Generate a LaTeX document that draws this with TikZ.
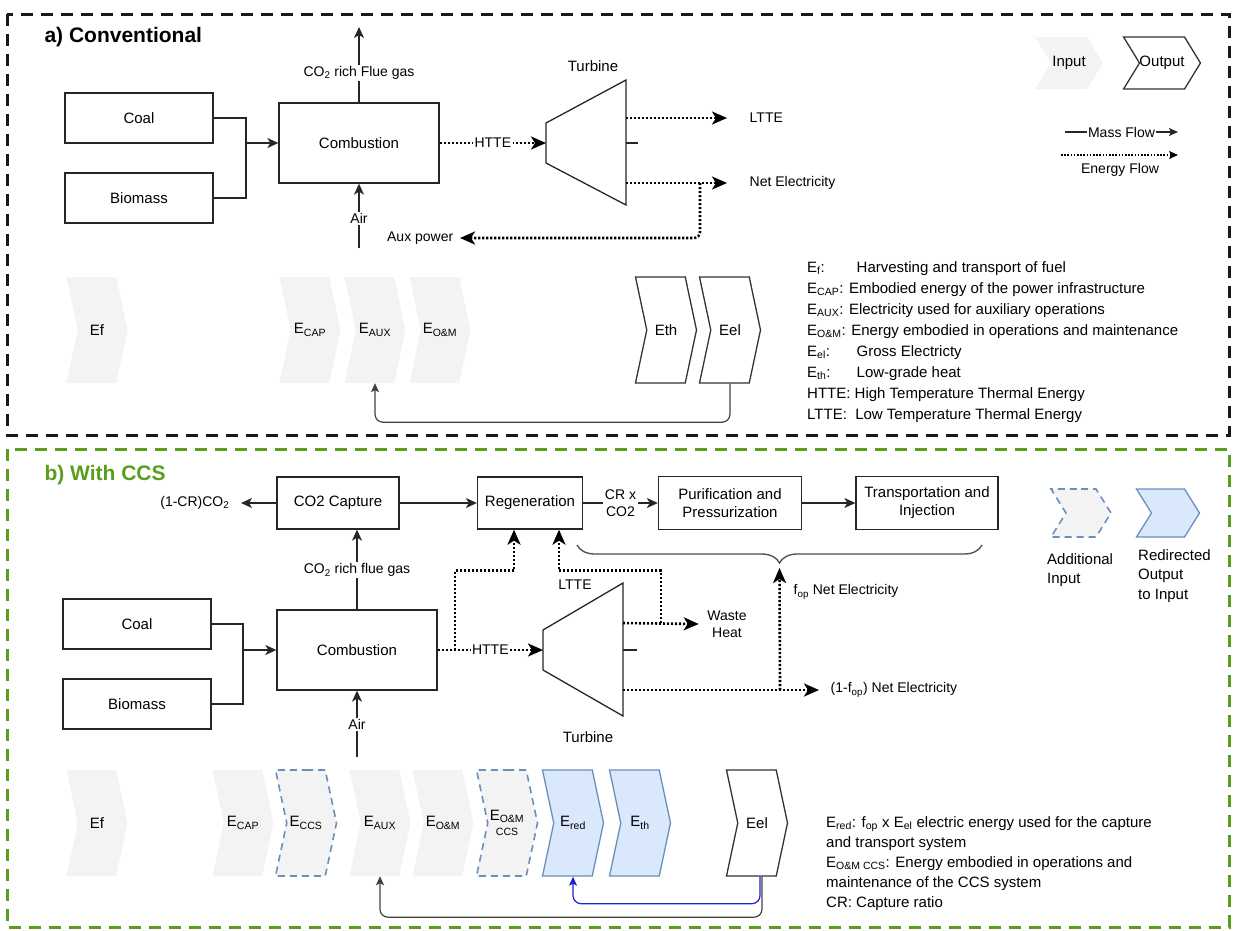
\documentclass[tikz,border=0pt]{standalone}
\usepackage{fontspec}
\setmainfont{Liberation Sans}
\usetikzlibrary{positioning,arrows.meta,calc,shapes.symbols,decorations.pathreplacing}
\definecolor{ccsgreen}{HTML}{5A9E1E}
\definecolor{ioblue}{HTML}{6C8EBF}
\definecolor{iobluefill}{HTML}{DAE8FC}
\definecolor{iogray}{HTML}{F3F3F3}
\definecolor{retblue}{HTML}{2020D0}
\newcommand{\fsBox}{\fontsize{15}{18}\selectfont}
\newcommand{\fsLab}{\fontsize{14}{17}\selectfont}
\tikzset{
  unitbox/.style={draw=black!85, line width=1.3pt, fill=white, font=\fsBox, align=center, inner sep=0pt},
  flowlab/.style={font=\fsLab, inner sep=1.5pt},
  massline/.style={draw=black!85, line width=1.3pt},
  mass/.style={massline, -{Stealth[length=11pt,width=10pt,inset=3pt]}},
  energy/.style={draw=black, line width=2.6pt, dash pattern=on 2.2pt off 1.8pt,
                 -{Stealth[length=15pt,width=13pt,inset=4pt]}},
  ret/.style={draw=black!75, line width=1.2pt, rounded corners=8pt,
              -{Stealth[length=9pt,width=8pt,inset=2pt]}},
  chev/.style={shape=signal, signal from=west, signal to=east, signal pointer angle=156,
               minimum width=61pt, minimum height=106pt, inner sep=0pt, font=\fsBox, align=center},
  chevin/.style={chev, fill=iogray},
  chevout/.style={chev, draw=black!80, line width=1.3pt, fill=white},
  chevadd/.style={chev, fill=iogray, draw=ioblue, line width=1.6pt, dash pattern=on 7pt off 5pt},
  chevred/.style={chev, fill=iobluefill, draw=ioblue, line width=1.3pt},
  seclab/.style={font=\bfseries\fontsize{21}{24}\selectfont, anchor=west},
  keytext/.style={font=\fsBox, align=left, anchor=north west, inner sep=0pt},
}

\begin{document}
\begin{tikzpicture}[x=1pt, y=-1pt]
  \useasboundingbox (0,0) rectangle (1234,930);

  % a) conventional
  \draw[black!90, line width=3pt, dash pattern=on 12pt off 8pt] (7,14) rectangle (1229,435);
  \node[seclab] (titleA) at (41,37) {a) Conventional};

  \node[unitbox, minimum width=148pt, minimum height=50pt] (coalA) at (139,118) {Coal};
  \node[unitbox, minimum width=148pt, minimum height=50pt] (bioA) at (139,198) {Biomass};
  \node[unitbox, minimum width=160pt, minimum height=80pt] (combA) at (359,143) {Combustion};
  \coordinate (mixA) at (246,143);
  \draw[massline] (coalA.east) -| (mixA) |- (bioA.east);
  \draw[mass] (mixA) -- (combA.west);
  \coordinate (flueA) at (359,27);
  \draw[mass] (combA.north) -- node[flowlab, fill=white, pos=0.39]{CO\textsubscript{2} rich Flue gas} (flueA);
  \coordinate (airA) at (359,248);
  \draw[mass] (airA) -- node[flowlab, fill=white, pos=0.46]{Air} (combA.south);

  \draw[massline] (546,123) -- (626,80) -- (626,205) -- (546,163) -- cycle;
  \draw[massline] (626,143) -- (638,143);
  \coordinate (turbAin) at (546,143);
  \coordinate (turbAup) at (626,118);
  \coordinate (turbAlo) at (626,183);
  \node[font=\fsBox] (turbAlab) at (593,66) {Turbine};
  \draw[energy] (combA.east) -- node[flowlab, fill=white]{HTTE} (turbAin);

  \node[flowlab, anchor=west] (ltteA) at (748,118) {LTTE};
  \node[flowlab, anchor=west] (netA) at (748,183) {Net Electricity};
  \node[flowlab, anchor=east] (auxA) at (455,238) {Aux power};
  \draw[energy] (turbAup) -- ([xshift=-21pt]ltteA.west);
  \draw[energy] (turbAlo) -- ([xshift=-21pt]netA.west);
  \coordinate (netjA) at (700,183);
  \draw[energy, rounded corners=6pt] (netjA) |- ([xshift=5pt]auxA.east);

  \node[chevin, minimum width=68pt, minimum height=52pt, signal pointer angle=117] (keyIn) at (1069,63) {Input};
  \node[chevout, minimum width=76pt, minimum height=52pt, signal pointer angle=117] (keyOut) at (1162,63) {Output};
  \coordinate (keyMa) at (1065,132);
  \coordinate (keyMb) at (1178,132);
  \draw[mass, -{Stealth[length=9pt,width=8pt,inset=2pt]}] (keyMa) -- node[flowlab, fill=white]{Mass Flow} (keyMb);
  \coordinate (keyEa) at (1061,155);
  \coordinate (keyEb) at (1178,155);
  \draw[energy, line width=1.6pt, dash pattern=on 1.6pt off 1.6pt, -{Stealth[length=9pt,width=8pt,inset=2pt]}] (keyEa) -- (keyEb);
  \node[flowlab] (keyElab) at (1120,170) {Energy Flow};

  \node[chevin] (efA) at (97,330) {Ef};
  \node[chevin] (capA) at (310,330) {E\textsubscript{CAP}};
  \node[chevin] (auxinA) at (375,330) {E\textsubscript{AUX}};
  \node[chevin] (omA) at (440,330) {E\textsubscript{O\&M}};
  \node[chevout] (ethA) at (666,330) {Eth};
  \node[chevout] (eelA) at (730,330) {Eel};
  \draw[ret] (eelA.south) |- ($(auxinA.south)+(0,39)$) -- (auxinA.south);

  \node[keytext, font=\fontsize{15}{21}\selectfont] (defsA) at (807,261) {%
    \makebox[3.3em][l]{E\textsubscript{f}:}Harvesting and transport of fuel\\
    E\textsubscript{CAP}: Embodied energy of the power infrastructure\\
    E\textsubscript{AUX}: Electricity used for auxiliary operations\\
    E\textsubscript{O\&M}: Energy embodied in operations and maintenance\\
    \makebox[3.3em][l]{E\textsubscript{el}:}Gross Electricty\\
    \makebox[3.3em][l]{E\textsubscript{th}:}Low-grade heat\\
    HTTE: High Temperature Thermal Energy\\
    LTTE:\ \ Low Temperature Thermal Energy};

  % b) with CCS
  \draw[ccsgreen, line width=3pt, dash pattern=on 12pt off 8pt] (7,449) rectangle (1229,927);
  \node[seclab, text=ccsgreen] (titleB) at (41,475) {b) With CCS};

  \node[unitbox, minimum width=122pt, minimum height=52pt] (captB) at (338,503) {CO2 Capture};
  \node[unitbox, minimum width=105pt, minimum height=52pt] (regenB) at (530,503) {Regeneration};
  \node[unitbox, minimum width=143pt, minimum height=53pt] (purB) at (730,503) {Purification and\\Pressurization};
  \node[unitbox, minimum width=142pt, minimum height=53pt] (transB) at (927,503) {Transportation and\\Injection};
  \node[flowlab, anchor=east] (ventB) at (231,503) {(1-CR)CO\textsubscript{2}};
  \draw[mass] (captB.west) -- ([xshift=10pt]ventB.east);
  \draw[mass] (captB.east) -- (regenB.west);
  \draw[mass] (regenB.east) -- node[flowlab, fill=white, align=center]{CR x\\CO2} (purB.west);
  \draw[mass] (purB.east) -- (transB.west);

  \node[unitbox, minimum width=148pt, minimum height=50pt] (coalB) at (137,624) {Coal};
  \node[unitbox, minimum width=148pt, minimum height=50pt] (bioB) at (137,704) {Biomass};
  \node[unitbox, minimum width=160pt, minimum height=80pt] (combB) at (357,650) {Combustion};
  \coordinate (mixB) at (243,650);
  \draw[massline] (coalB.east) -| (mixB) |- (bioB.east);
  \draw[mass] (mixB) -- (combB.west);
  \draw[mass] (combB.north) -- node[flowlab, fill=white, pos=0.49]{CO\textsubscript{2} rich flue gas} (combB.north |- captB.south);
  \coordinate (airB) at (357,757);
  \draw[mass] (airB) -- node[flowlab, fill=white, pos=0.485]{Air} (combB.south);

  \draw[massline] (543,630) -- (623,583) -- (623,716) -- (543,670) -- cycle;
  \draw[massline] (623,650) -- (637,650);
  \coordinate (turbBin) at (543,650);
  \coordinate (turbBup) at (623,623);
  \coordinate (turbBlo) at (623,690);
  \node[font=\fsBox] (turbBlab) at (588,737) {Turbine};
  \draw[energy] (combB.east) -- node[flowlab, fill=white]{HTTE} (turbBin);
  \coordinate (httejB) at (455,650);
  \draw[energy] (httejB) |- ($(regenB.south)+(-16,41)$) -- ($(regenB.south)+(-16,0)$);

  \node[flowlab, align=center] (wasteB) at (727,624) {Waste\\Heat};
  \draw[energy] (turbBup) -- ([xshift=-7pt]wasteB.west);
  \coordinate (ltjB) at (661,623);
  \draw[energy] (ltjB) |- ($(regenB.south)+(29,41)$) -- ($(regenB.south)+(29,0)$);
  \node[flowlab] (ltteB) at (575,585) {LTTE};

  \node[flowlab, anchor=west] (netB) at (829,690) {(1-f\textsubscript{op}) Net Electricity};
  \draw[energy] (turbBlo) -- ([xshift=-10pt]netB.west);
  \coordinate (braceL) at (577,545);
  \coordinate (braceR) at (982,545);
  \draw[black!70, line width=1.3pt, decorate, decoration={brace, mirror, amplitude=18pt}] (braceL) -- (braceR);
  \coordinate (braceTip) at (779.5,568);
  \coordinate (fopjB) at (780,690);
  \draw[energy] (fopjB) -- (braceTip);
  \node[flowlab, anchor=west] (fopB) at (792,592) {f\textsubscript{op} Net Electricity};

  \node[chevadd, minimum width=60pt, minimum height=48pt, signal pointer angle=116] (keyAdd) at (1081,513) {};
  \node[chevred, minimum width=63pt, minimum height=48pt, signal pointer angle=116] (keyRed) at (1168,513) {};
  \node[keytext, font=\fontsize{15}{19}\selectfont] (keyAddLab) at (1047,553) {Additional\\Input};
  \node[keytext, font=\fontsize{15}{19.5}\selectfont] (keyRedLab) at (1138,549) {Redirected\\Output\\to Input};

  \node[chevin] (efB) at (97,823) {Ef};
  \node[chevin] (capB) at (243,823) {E\textsubscript{CAP}};
  \node[chevadd] (ccsB) at (306,823) {E\textsubscript{CCS}};
  \node[chevin] (auxinB) at (380,823) {E\textsubscript{AUX}};
  \node[chevin] (omB) at (443,823) {E\textsubscript{O\&M}};
  \node[chevadd] (omccsB) at (507,823) {E\textsubscript{O\&M}\\[-3pt]{\fontsize{10.5}{12}\selectfont CCS}};
  \node[chevred] (redB) at (573,823) {E\textsubscript{red}};
  \node[chevred] (ethB) at (640,823) {E\textsubscript{th}};
  \node[chevout] (eelB) at (757,823) {Eel};
  \draw[ret] ([xshift=5pt]eelB.south) |- ($(auxinB.south)+(0,41)$) -- (auxinB.south);
  \draw[ret, draw=retblue] ([xshift=3pt]eelB.south) |- ($(redB.south)+(0,27)$) -- (redB.south);

  \node[keytext, font=\fontsize{15}{20}\selectfont] (defsB) at (826,816) {%
    E\textsubscript{red}: f\textsubscript{op} x E\textsubscript{el} electric energy used for the capture\\
    and transport system\\
    E\textsubscript{O\&M CCS}: Energy embodied in operations and\\
    maintenance of the CCS system\\
    CR: Capture ratio};
\end{tikzpicture}
\end{document}
